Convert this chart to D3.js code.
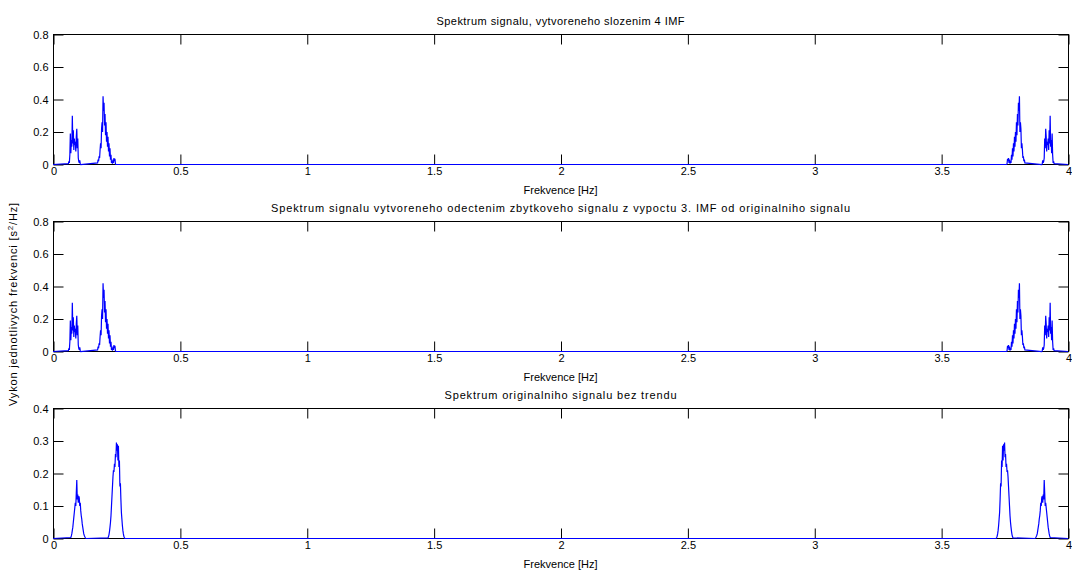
<!DOCTYPE html>
<html>
<head>
<meta charset="utf-8">
<script src="https://cdn.jsdelivr.net/npm/d3@7"></script>
<style>
  body { margin: 0; background: #fff; }
  svg { display: block; }
  text { font-family: "Liberation Sans", Arial, sans-serif; font-size: 11px; fill: #000; }
</style>
</head>
<body>
<svg id="chart" width="1072" height="571"></svg>
<script>
// Spectrum bins are 1/512 Hz wide; each peak cluster lists its values from a start bin.
const binHz = 1 / 512;

const titles = [
  "Spektrum signalu, vytvoreneho slozenim 4 IMF",
  "Spektrum signalu vytvoreneho odectenim zbytkoveho signalu z vypoctu 3. IMF od originalniho signalu",
  "Spektrum originalniho signalu bez trendu"
];
const xTicks = [0, 0.5, 1, 1.5, 2, 2.5, 3, 3.5, 4];
const yTicksImf = [0, 0.2, 0.4, 0.6, 0.8];
const yTicksOrig = [0, 0.1, 0.2, 0.3, 0.4];

// Signal composed of IMFs (also the signal after subtracting the residual)
const imfLowStart = 31;
const imfLow = [0.005, 0.02, 0.01, 0.06, 0.19, 0.07, 0.15, 0.11, 0.30, 0.13, 0.21, 0.09, 0.16, 0.12,
  0.14, 0.08, 0.17, 0.22, 0.10, 0.16, 0.04, 0.02, 0.01, 0.025, 0.005, 0];
const imfMidStart = 90;
const imfMid = [0.01, 0.03, 0.02, 0.05, 0.04, 0.09, 0.13, 0.10, 0.22, 0.26, 0.20, 0.42, 0.33, 0.38,
  0.24, 0.31, 0.18, 0.26, 0.14, 0.20, 0.11, 0.17, 0.08, 0.13, 0.05, 0.10, 0.03, 0.06, 0.01, 0.02,
  0.005, 0.03, 0.01, 0.04, 0.02, 0.035, 0.005, 0];
const imfHighStart = 1924;
const imfHigh = [0, 0.005, 0.035, 0.02, 0.04, 0.01, 0.03, 0.005, 0.02, 0.01, 0.06, 0.03, 0.10, 0.05,
  0.13, 0.08, 0.17, 0.11, 0.20, 0.14, 0.26, 0.18, 0.31, 0.24, 0.38, 0.33, 0.42, 0.20, 0.26, 0.22,
  0.10, 0.13, 0.09, 0.04, 0.05, 0.02, 0.03, 0.01];
const imfTopStart = 1995;
const imfTop = [0, 0.005, 0.025, 0.01, 0.02, 0.04, 0.16, 0.10, 0.22, 0.17, 0.08, 0.14, 0.12, 0.16,
  0.09, 0.21, 0.13, 0.30, 0.11, 0.15, 0.07, 0.19, 0.06, 0.01, 0.02, 0.005];

// Original detrended signal
const origLowStart = 36;
const origLow = [0.003, 0.008, 0.015, 0.025, 0.035, 0.05, 0.065, 0.08, 0.095, 0.11, 0.10, 0.14, 0.18,
  0.12, 0.135, 0.11, 0.13, 0.125, 0.10, 0.11, 0.085, 0.07, 0.06, 0.045, 0.035, 0.025, 0.015, 0.01,
  0.006, 0.003, 0.001, 0];
const origMidStart = 111;
const origMid = [0.002, 0.006, 0.012, 0.022, 0.035, 0.05, 0.07, 0.10, 0.13, 0.16, 0.19, 0.21, 0.205,
  0.23, 0.22, 0.26, 0.25, 0.295, 0.27, 0.29, 0.24, 0.285, 0.22, 0.24, 0.16, 0.17, 0.12, 0.08, 0.06,
  0.04, 0.025, 0.014, 0.007, 0.003, 0];
const origHighStart = 1903;
const origHigh = [0, 0.003, 0.007, 0.014, 0.025, 0.04, 0.06, 0.08, 0.12, 0.17, 0.16, 0.24, 0.22,
  0.285, 0.24, 0.29, 0.27, 0.295, 0.25, 0.26, 0.22, 0.23, 0.205, 0.21, 0.19, 0.16, 0.13, 0.10, 0.07,
  0.05, 0.035, 0.022, 0.012, 0.006, 0.002];
const origTopStart = 1981;
const origTop = [0, 0.001, 0.003, 0.006, 0.01, 0.015, 0.025, 0.035, 0.045, 0.06, 0.07, 0.085, 0.11,
  0.10, 0.125, 0.13, 0.11, 0.135, 0.12, 0.18, 0.14, 0.10, 0.11, 0.095, 0.08, 0.065, 0.05, 0.035,
  0.025, 0.015, 0.008, 0.003];

// Assemble a full 0–4 Hz series: zero baseline plus the listed clusters
function spectrum(clusters) {
  const pts = [[0, 0]];
  clusters.forEach(([start, vals]) => {
    vals.forEach((v, i) => pts.push([(start + i) * binHz, v]));
  });
  pts.push([4, 0]);
  return pts.sort((a, b) => a[0] - b[0]);
}

const imfClusters = [[imfLowStart, imfLow], [imfMidStart, imfMid], [imfHighStart, imfHigh], [imfTopStart, imfTop]];
const origClusters = [[origLowStart, origLow], [origMidStart, origMid], [origHighStart, origHigh], [origTopStart, origTop]];

const panels = [
  { title: titles[0], titleWidth: 248, yMax: 0.8, yTicks: yTicksImf, data: spectrum(imfClusters), top: 34 },
  { title: titles[1], titleWidth: 579, yMax: 0.8, yTicks: yTicksImf, data: spectrum(imfClusters), top: 221 },
  { title: titles[2], titleWidth: 232, yMax: 0.4, yTicks: yTicksOrig, data: spectrum(origClusters), top: 408 }
];

const svg = d3.select("#chart");
const left = 53, right = 1068, plotH = 130, tickLen = 10;
const x = d3.scaleLinear().domain([0, 4]).range([left, right]);
const fmt = d => String(d);

svg.append("defs").append("clipPath").attr("id", "plotClip")
  .append("rect").attr("x", left).attr("y", 0).attr("width", right - left).attr("height", 571);

panels.forEach(p => {
  const bottom = p.top + plotH;
  const y = d3.scaleLinear().domain([0, p.yMax]).range([bottom, p.top]);
  const g = svg.append("g");

  // Frame
  g.append("rect")
    .attr("x", left + 0.5).attr("y", p.top + 0.5)
    .attr("width", right - left).attr("height", plotH)
    .attr("fill", "none").attr("stroke", "#000").attr("stroke-width", 1);

  const styleAxis = sel => {
    sel.select(".domain").remove();
    sel.selectAll(".tick line").attr("stroke", "#000");
    sel.selectAll(".tick text").attr("fill", "#000").style("font-size", "11px");
  };

  g.append("g").attr("transform", `translate(0.5,${bottom + 0.5})`)
    .call(d3.axisBottom(x).tickValues(xTicks).tickFormat(fmt).tickSize(-tickLen).tickPadding(3))
    .call(styleAxis);
  g.append("g").attr("transform", `translate(0.5,${p.top + 0.5})`)
    .call(d3.axisTop(x).tickValues(xTicks).tickFormat("").tickSize(-tickLen))
    .call(styleAxis);
  g.append("g").attr("transform", `translate(${left + 0.5},0.5)`)
    .call(d3.axisLeft(y).tickValues(p.yTicks).tickFormat(fmt).tickSize(-tickLen).tickPadding(5))
    .call(styleAxis);
  g.append("g").attr("transform", `translate(${right + 0.5},0.5)`)
    .call(d3.axisRight(y).tickValues(p.yTicks).tickFormat("").tickSize(-tickLen))
    .call(styleAxis);

  // Spectrum trace
  g.append("path")
    .datum(p.data)
    .attr("clip-path", "url(#plotClip)")
    .attr("fill", "none")
    .attr("stroke", "#0000ff")
    .attr("stroke-width", 1.2)
    .attr("stroke-linejoin", "miter")
    .attr("d", d3.line().x(d => x(d[0])).y(d => y(d[1]) + 0.5));

  g.append("text")
    .attr("x", (left + right) / 2).attr("y", p.top - 9)
    .attr("text-anchor", "middle")
    .attr("textLength", p.titleWidth)
    .attr("lengthAdjust", "spacing")
    .text(p.title);

  g.append("text")
    .attr("x", (left + right) / 2).attr("y", bottom + 30)
    .attr("text-anchor", "middle")
    .text("Frekvence [Hz]");
});

// Shared y-axis label
const yl = svg.append("text")
  .attr("transform", "translate(17,304) rotate(-90)")
  .attr("text-anchor", "middle")
  .style("letter-spacing", "0.85px");
yl.append("tspan").text("Vykon jednotlivych frekvenci [s");
yl.append("tspan").attr("dy", -4).style("font-size", "8px").text("2");
yl.append("tspan").attr("dy", 4).text("/Hz]");
</script>
</body>
</html>
